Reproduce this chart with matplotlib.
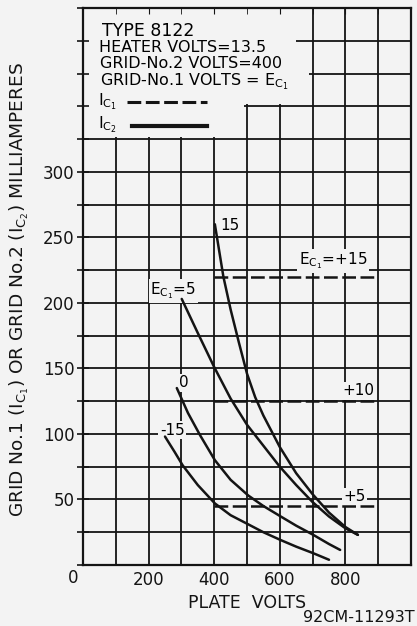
import numpy as np
from matplotlib import pyplot as plt
from matplotlib.patches import Rectangle

ink = "#141414"
paper = "#f3f3f3"

# grid-No.2 current (solid) curves
v_p15 = [402, 428, 450, 475, 500, 525, 550, 600, 650, 700, 750, 800, 838]
ic2_p15 = [260, 220, 195, 170, 146, 128, 114, 90, 70, 54, 40, 29, 23]
v_p5 = [301, 350, 400, 450, 500, 550, 600, 650, 700, 750, 800, 838]
ic2_p5 = [203, 177, 151, 127, 107, 91, 75, 61, 48, 37, 28, 23]
v_0 = [286, 320, 357, 402, 450, 504, 550, 603, 650, 702, 750, 784]
ic2_0 = [135, 116, 99, 80, 65, 53, 45, 37, 30, 23, 16, 11.5]
v_m15 = [250, 280, 304, 350, 402, 450, 504, 550, 603, 650, 702, 750]
ic2_m15 = [98, 86, 76, 61, 47, 38, 31, 25, 19, 14, 9, 4]

# grid-No.1 current (dashed) lines
ec1_dashed = ["+15", "+10", "+5"]
ic1_level = [220, 125, 45]
ic1_v_range = [400, 900]

xticks = [200, 400, 600, 800]
yticks = [50, 100, 150, 200, 250, 300]

plt.rcParams["font.family"] = "DejaVu Sans"

fig = plt.figure(figsize=(4.17, 6.26), dpi=100, facecolor=paper)
ax = fig.add_axes([83/417, 61/626, 328/417, 557/626], facecolor=paper)
ax.set_xlim(0, 1000)
ax.set_ylim(0, 425)

# grid drawn by hand so the title box can cover part of it
for v in range(100, 1000, 100):
    ax.axvline(v, color=ink, lw=1.3, zorder=1)
for i in range(25, 425, 25):
    ax.axhline(i, color=ink, lw=1.3, zorder=1)

# blank box behind the heading text
ax.add_patch(Rectangle((0, 326.5), 490, 100, color=paper, zorder=1.5, lw=0))
ax.add_patch(Rectangle((490, 351.5), 160, 80, color=paper, zorder=1.5, lw=0))
ax.add_patch(Rectangle((650, 351.5), 40, 47, color=paper, zorder=1.5, lw=0))

for v, i in [(v_p15, ic2_p15), (v_p5, ic2_p5), (v_0, ic2_0), (v_m15, ic2_m15)]:
    ax.plot(v, i, color=ink, lw=1.8, zorder=3, solid_capstyle="round",
            solid_joinstyle="round")

for lvl in ic1_level:
    ax.plot(ic1_v_range, [lvl, lvl], color=ink, lw=1.8, zorder=3,
            dashes=(5.5, 1.8))

box = dict(facecolor=paper, edgecolor="none", pad=1)
fs = 11
ax.text(418, 259, "15", fontsize=fs, ha="left", va="center", zorder=2.5, bbox=box)
ax.text(275, 209, r"$\mathregular{E_{C_1}}$=5", fontsize=fs, ha="center", va="center", zorder=2.5, bbox=box)
ax.text(308, 139, "0", fontsize=fs, ha="center", va="center", zorder=2.5, bbox=box)
ax.text(272, 103, "-15", fontsize=fs, ha="center", va="center", zorder=2.5, bbox=box)
ax.text(762, 232, r"$\mathregular{E_{C_1}}$=+15", fontsize=fs, ha="center", va="center", zorder=2.5, bbox=box)
ax.text(841, 133, "+10", fontsize=fs, ha="center", va="center", zorder=2.5, bbox=box)
ax.text(829, 52, "+5", fontsize=fs, ha="center", va="center", zorder=2.5, bbox=box)

# heading
hs = 11.5
ax.text(0.058, 0.958, "TYPE 8122", transform=ax.transAxes, fontsize=12.5, va="center", zorder=2.5)
ax.text(0.049, 0.929, "HEATER VOLTS=13.5", transform=ax.transAxes, fontsize=hs, va="center", zorder=2.5)
ax.text(0.052, 0.900, "GRID-No.2 VOLTS=400", transform=ax.transAxes, fontsize=hs, va="center", zorder=2.5)
ax.text(0.052, 0.868, r"GRID-No.1 VOLTS = $\mathregular{E_{C_1}}$", transform=ax.transAxes, fontsize=hs, va="center", zorder=2.5)
ax.text(0.046, 0.831, r"$\mathregular{I_{C_1}}$", transform=ax.transAxes, fontsize=hs, va="center", zorder=2.5)
ax.text(0.046, 0.790, r"$\mathregular{I_{C_2}}$", transform=ax.transAxes, fontsize=hs, va="center", zorder=2.5, bbox=box)
ax.plot([0.135, 0.377], [0.832, 0.832], transform=ax.transAxes, color=ink, lw=2.2, dashes=(4.5, 1.5), zorder=3)
ax.plot([0.150, 0.377], [0.788, 0.788], transform=ax.transAxes, color=ink, lw=3.0, zorder=3)

ax.set_xticks(xticks)
ax.set_xticklabels([str(t) for t in xticks], fontsize=12)
ax.set_yticks(range(0, 426, 25))
ax.set_yticklabels([str(t) if t in yticks else "" for t in range(0, 426, 25)], fontsize=12)
ax.set_xticks(range(100, 1000, 100), minor=True)
ax.tick_params(axis="x", which="both", bottom=False, top=True, direction="in", length=4, pad=4, colors=ink)
ax.tick_params(axis="y", direction="inout", length=8, width=1.2, pad=2, colors=ink)
ax.annotate("0", xy=(0, 0), xytext=(-7, -9.5), textcoords="offset points",
            ha="center", va="center", fontsize=12, color=ink, annotation_clip=False)

for s in ax.spines.values():
    s.set_linewidth(1.6)
    s.set_color(ink)

ax.set_xlabel("PLATE  VOLTS", fontsize=12.5, color=ink)
ax.xaxis.set_label_coords(0.5, -0.052)
ax.set_ylabel(r"GRID No.1 ($\mathregular{I_{C_1}}$) OR GRID No.2 ($\mathregular{I_{C_2}}$) MILLIAMPERES",
              fontsize=13.3, color=ink)
ax.yaxis.set_label_coords(-0.16, 0.494)
fig.text(415/417, 1 - 618/626, "92CM-11293T", ha="right", va="center", fontsize=11.5, color=ink)

plt.savefig("out.png", dpi=100, facecolor=paper)
